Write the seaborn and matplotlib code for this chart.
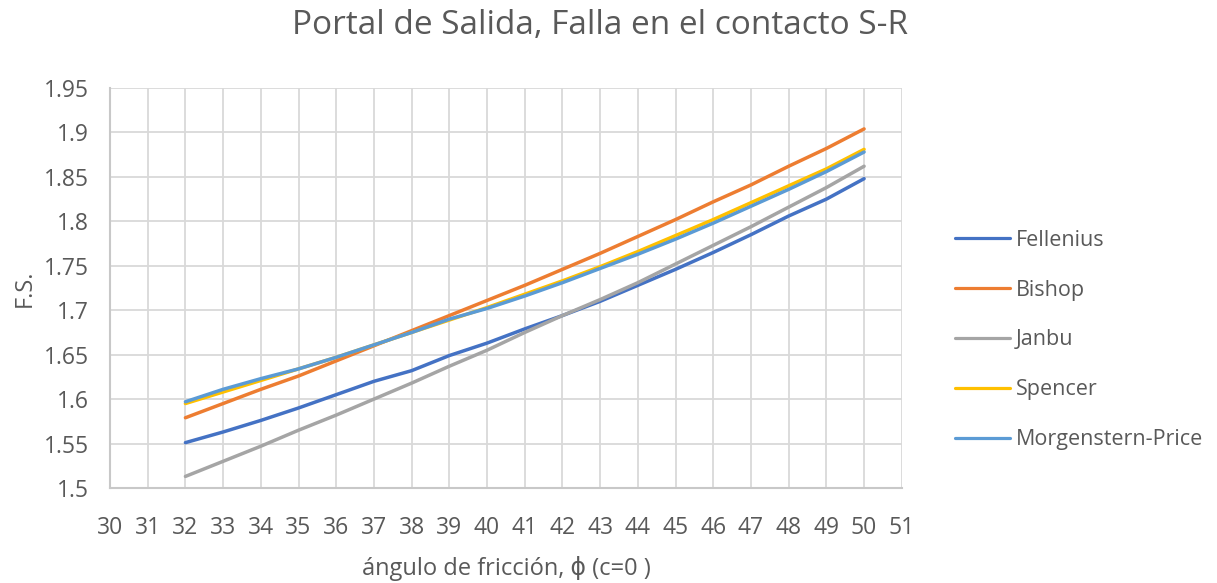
import matplotlib
matplotlib.use("Agg")
import matplotlib.pyplot as plt
import seaborn as sns
import pandas as pd
from matplotlib.ticker import FuncFormatter, MultipleLocator

angles = list(range(32, 51))
fellenius = [1.551, 1.563, 1.576, 1.590, 1.605, 1.620, 1.632, 1.649, 1.663, 1.679,
             1.694, 1.710, 1.728, 1.746, 1.765, 1.785, 1.806, 1.825, 1.848]
bishop = [1.579, 1.595, 1.611, 1.626, 1.643, 1.660, 1.677, 1.694, 1.711, 1.728,
          1.746, 1.764, 1.783, 1.802, 1.822, 1.841, 1.862, 1.882, 1.904]
janbu = [1.513, 1.530, 1.547, 1.565, 1.582, 1.600, 1.618, 1.637, 1.655, 1.675,
         1.694, 1.712, 1.731, 1.752, 1.773, 1.794, 1.816, 1.838, 1.862]
spencer = [1.595, 1.608, 1.621, 1.634, 1.647, 1.661, 1.675, 1.689, 1.703, 1.718,
           1.733, 1.749, 1.766, 1.784, 1.802, 1.821, 1.840, 1.859, 1.881]
morgenstern = [1.597, 1.611, 1.623, 1.634, 1.647, 1.661, 1.675, 1.690, 1.702, 1.716,
               1.731, 1.747, 1.763, 1.780, 1.798, 1.817, 1.836, 1.856, 1.878]

methods = ["Fellenius", "Bishop", "Janbu", "Spencer", "Morgenstern-Price"]
colors = ["#4472C4", "#ED7D31", "#A5A5A5", "#FFC000", "#5B9BD5"]

df = pd.DataFrame({"angle": angles, "Fellenius": fellenius, "Bishop": bishop,
                   "Janbu": janbu, "Spencer": spencer, "Morgenstern-Price": morgenstern})
long = df.melt(id_vars="angle", var_name="method", value_name="fs")

sns.set_theme(style="white")
plt.rcParams["font.family"] = ["Open Sans", "DejaVu Sans"]
text_color = "#595959"

fig = plt.figure(figsize=(12.17, 5.83), dpi=100)
ax = fig.add_axes([0.0904, 0.163, 0.6506, 0.686])

sns.lineplot(data=long, x="angle", y="fs", hue="method", hue_order=methods,
             palette=colors, linewidth=2.5, ax=ax)

ax.set_xlim(30, 51)
ax.set_ylim(1.5, 1.95)
ax.xaxis.set_major_locator(MultipleLocator(1))
ax.yaxis.set_major_locator(MultipleLocator(0.05))
ax.yaxis.set_major_formatter(FuncFormatter(lambda v, p: f"{v:.2f}".rstrip("0").rstrip(".")))
ax.grid(True, color="#D9D9D9", linewidth=1.3)
ax.set_axisbelow(True)
for side in ["top", "right"]:
    ax.spines[side].set_visible(False)
for side in ["left", "bottom"]:
    ax.spines[side].set_color("#C8C8C8")
    ax.spines[side].set_linewidth(1.5)
ax.tick_params(axis="both", colors=text_color, labelsize=16.5, length=0)
ax.tick_params(axis="x", pad=20)
ax.tick_params(axis="y", pad=15)

ax.set_xlabel("ángulo de fricción, ϕ (c=0 )", fontsize=17, color=text_color, labelpad=12)
ax.set_ylabel("F.S.", fontsize=17, color=text_color, labelpad=5)
fig.suptitle("Portal de Salida, Falla en el contacto S-R", fontsize=24,
             color=text_color, x=0.493, y=0.985)

handles, labels = ax.get_legend_handles_labels()
leg = ax.legend(handles, labels, loc="center left", bbox_to_anchor=(1.056, 0.37),
                borderaxespad=0, frameon=False, fontsize=15.5, labelspacing=1.34,
                handlelength=2.55, handletextpad=0.3, labelcolor=text_color)
for line in leg.get_lines():
    line.set_linewidth(2.3)

fig.savefig("out.png", dpi=100)
